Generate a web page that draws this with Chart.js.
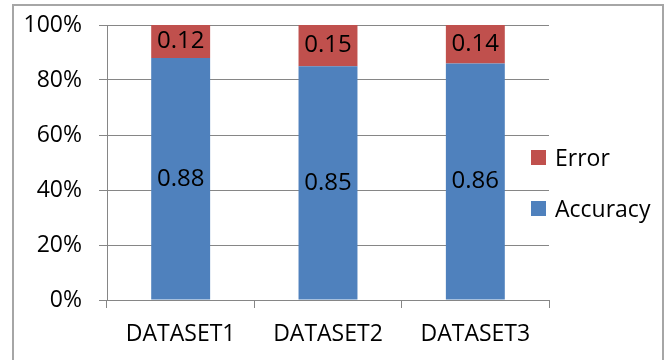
<!DOCTYPE html>
<html>
<head>
<meta charset="utf-8">
<script src="https://cdn.jsdelivr.net/npm/chart.js@4.4.1/dist/chart.umd.min.js"></script>
<style>
  html, body { margin: 0; padding: 0; background: #fff; }
  #wrap { position: relative; width: 667px; height: 360px; overflow: hidden; }
  #frame { position: absolute; left: 12px; top: 4px; width: 652px; height: 370px; border: 2px solid #a6a6a6; box-sizing: border-box; }
  #legend { position: absolute; left: 531px; top: 0; font-family: "Open Sans", sans-serif; font-size: 23px; color: #000; }
  .item { position: absolute; left: 0; white-space: nowrap; }
  .box { position: absolute; left: 0; width: 15px; height: 15px; }
  .txt { position: absolute; left: 24px; line-height: 1; }
  canvas { display: block; }
</style>
</head>
<body>
<div id="wrap">
  <div id="frame"></div>
  <canvas id="chart" width="667" height="360"></canvas>
  <div id="legend"></div>
</div>
<script>
const categories = ['DATASET1', 'DATASET2', 'DATASET3'];
const accuracy = [0.88, 0.85, 0.86];
const error = [0.12, 0.15, 0.14];
const blue = '#4F81BD';
const red = '#C0504D';
const font = '"Open Sans", sans-serif';

// values written in the middle of each segment
const segmentLabels = {
  id: 'segmentLabels',
  afterDatasetsDraw(chart) {
    const ctx = chart.ctx;
    ctx.save();
    ctx.font = '24px ' + font;
    ctx.fillStyle = '#000';
    ctx.textAlign = 'center';
    ctx.textBaseline = 'middle';
    chart.data.datasets.forEach((ds, i) => {
      chart.getDatasetMeta(i).data.forEach((bar, j) => {
        const p = bar.getProps(['x', 'y', 'base'], true);
        ctx.fillText(ds.data[j].toFixed(2), p.x, (p.y + p.base) / 2);
      });
    });
    ctx.restore();
  }
};

const chart = new Chart(document.getElementById('chart').getContext('2d'), {
  type: 'bar',
  data: {
    labels: categories,
    datasets: [
      { label: 'Accuracy', data: accuracy, backgroundColor: blue },
      { label: 'Error', data: error, backgroundColor: red }
    ]
  },
  options: {
    responsive: false,
    animation: false,
    layout: { padding: { top: 25, right: 118, left: 0, bottom: 0 } },
    datasets: { bar: { barPercentage: 0.4, categoryPercentage: 1 } },
    plugins: {
      legend: { display: false },
      tooltip: { enabled: false }
    },
    scales: {
      x: {
        stacked: true,
        grid: { drawOnChartArea: false, color: '#868686', tickLength: 8, offset: true },
        border: { color: '#868686' },
        ticks: { color: '#000', font: { family: font, size: 23 }, padding: 13 },
        afterFit(scale) { scale.height = 60; }
      },
      y: {
        stacked: true,
        min: 0,
        max: 1,
        grid: { color: '#868686', tickLength: 8 },
        border: { color: '#868686' },
        ticks: {
          stepSize: 0.2,
          color: '#000',
          font: { family: font, size: 23 },
          padding: 17,
          callback: v => Math.round(v * 100) + '%'
        },
        afterFit(scale) {
          scale.width = 107;
          scale.paddingTop = 0;
          scale.paddingBottom = 0;
        }
      }
    }
  },
  plugins: [segmentLabels]
});

// legend, Error above Accuracy
const legend = document.getElementById('legend');
const legendTops = [201, 150];
chart.data.datasets.forEach((ds, i) => {
  const item = document.createElement('div');
  item.className = 'item';
  item.style.top = legendTops[i] + 'px';
  item.innerHTML = '<div class="box" style="background:' + ds.backgroundColor + '"></div>' +
    '<div class="txt" style="top:-4px">' + ds.label + '</div>';
  legend.appendChild(item);
});
</script>
</body>
</html>
